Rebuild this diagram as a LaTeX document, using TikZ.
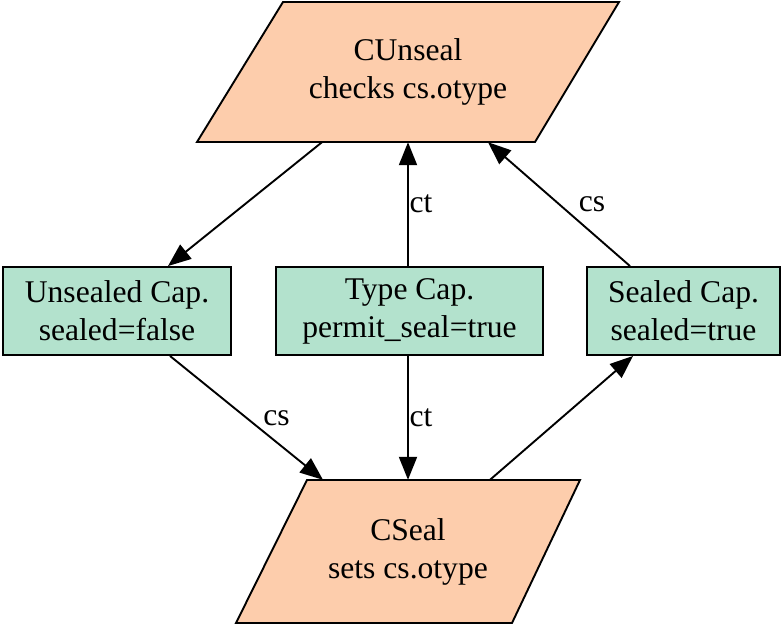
\documentclass[tikz,border=0pt]{standalone}
\usepackage{fontspec}
\setmainfont{Liberation Serif}
\usetikzlibrary{arrows.meta,calc}
\definecolor{peach}{HTML}{FDCDAC}
\definecolor{mint}{HTML}{B3E2CD}
\begin{document}
\begin{tikzpicture}[x=1pt,y=1pt,
  txt/.style={font=\fontsize{31.6}{38}\selectfont, align=center, inner sep=0pt},
  capbox/.style={txt, draw, line width=1.9pt, fill=mint, minimum height=88pt},
  para/.style={draw, line width=1.9pt, fill=peach, line join=miter},
  conn/.style={line width=1.9pt, -{Triangle[length=23pt,width=18pt]}},
  lbl/.style={font=\fontsize{31.6}{38}\selectfont, inner sep=0pt}]
\useasboundingbox (0,0) rectangle (782,-625);
% parallelograms
\path[para] (283,-2) -- (619,-2) -- (535,-142) -- (197,-142) -- cycle;
\path[para] (307,-480) -- (580,-480) -- (512,-623) -- (236,-623) -- cycle;
\node[txt, minimum height=140pt] (cu) at (408,-72) {CUnseal\\checks cs.otype};
\node[txt, minimum height=143pt] (cs) at (408,-551.5) {CSeal\\sets cs.otype};
% boxes
\node[capbox, minimum width=228pt] (ub) at (117,-311) {Unsealed Cap.\\sealed=false};
\node[capbox, minimum width=267pt] (tc) at (409.5,-311) {Type Cap.\\permit\_seal=true};
\node[capbox, minimum width=193pt] (sb) at (683.5,-311) {Sealed Cap.\\sealed=true};
% connectors
\draw[conn] ([xshift=-86pt]cu.south) -- ([xshift=51pt]ub.north);
\draw[conn] ([xshift=-1.5pt]tc.north) -- (cu.south) node[lbl, midway, xshift=13pt] {ct};
\draw[conn] ([xshift=-53.5pt]sb.north) -- ([xshift=80pt]cu.south) node[lbl, midway, xshift=33pt] {cs};
\draw[conn] ([xshift=53pt]ub.south) -- ([xshift=-85pt]cs.north) node[lbl, midway, xshift=30pt] {cs};
\draw[conn] ([xshift=-1.5pt]tc.south) -- (cs.north) node[lbl, midway, xshift=13pt] {ct};
\draw[conn] ([xshift=82pt]cs.north) -- ([xshift=-50.5pt]sb.south);
\end{tikzpicture}
\end{document}
